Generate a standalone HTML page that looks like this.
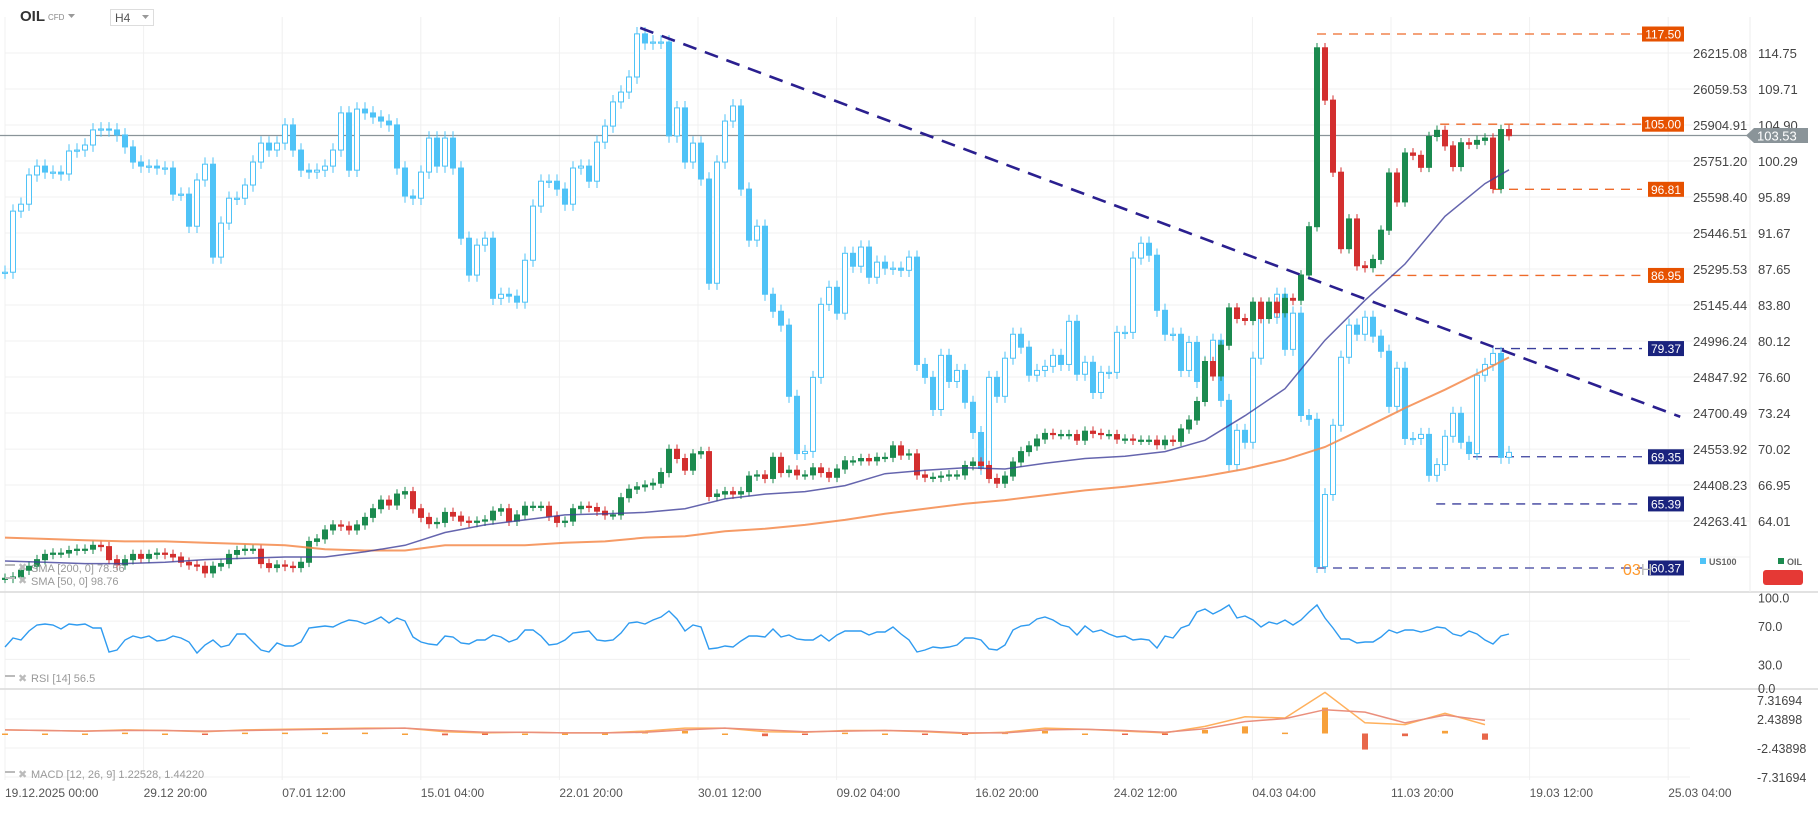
<!DOCTYPE html>
<html><head><meta charset="utf-8"><title>OIL H4</title>
<style>
html,body{margin:0;padding:0;background:#fff;}
#wrap{position:relative;width:1818px;height:813px;overflow:hidden;font-family:"Liberation Sans",sans-serif;}
svg text{font-family:"Liberation Sans",sans-serif;}
</style></head>
<body>
<div id="wrap">
<svg id="chart" width="1818" height="813" viewBox="0 0 1818 813" xmlns="http://www.w3.org/2000/svg">
  <g id="grid"></g>
  <g id="levels"></g>
  <g id="us100"></g>
  <g id="oil"></g>
  <g id="sma"></g>
  <g id="trend"></g>
  <g id="rsi"></g>
  <g id="macd"></g>
  <g id="axes"></g>
  <g id="tags"></g>
  <g>
    <text x="20" y="21" font-size="15" font-weight="bold" fill="#333">OIL</text>
    <text x="48" y="20" font-size="8" fill="#888">CFD</text>
    <path d="M68 14 L75 14 L71.5 18 Z" fill="#999"/>
    <rect x="110.5" y="9.5" width="43" height="16" fill="#fff" stroke="#ddd"/>
    <text x="115" y="22" font-size="12" fill="#555">H4</text>
    <path d="M142 15 L149 15 L145.5 19 Z" fill="#999"/>
  </g>
  <g>
    <rect x="5" y="564" width="10" height="2" fill="#bbb"/>
    <text x="18" y="571" font-size="11" fill="#bbb">✖</text>
    <text x="31" y="572" font-size="11" fill="#999">SMA [200, 0] 78.56</text>
    <rect x="5" y="577" width="10" height="2" fill="#bbb"/>
    <text x="18" y="584" font-size="11" fill="#bbb">✖</text>
    <text x="31" y="585" font-size="11" fill="#999">SMA [50, 0] 98.76</text>
    <rect x="5" y="675" width="10" height="2" fill="#bbb"/>
    <text x="18" y="682" font-size="11" fill="#bbb">✖</text>
    <text x="31" y="682" font-size="11" fill="#999">RSI [14] 56.5</text>
    <rect x="5" y="771" width="10" height="2" fill="#bbb"/>
    <text x="18" y="778" font-size="11" fill="#bbb">✖</text>
    <text x="31" y="778" font-size="11" fill="#999">MACD [12, 26, 9] 1.22528, 1.44220</text>
  </g>
  <g>
    <rect x="1700" y="558" width="6" height="6" fill="#4fc3f7"/>
    <text x="1709" y="565" font-size="9" font-weight="bold" fill="#666">US100</text>
    <rect x="1778" y="558" width="6" height="6" fill="#1b8a4f"/>
    <text x="1787" y="565" font-size="9" font-weight="bold" fill="#666">OIL</text>
    <rect x="1763" y="570" width="40" height="15" rx="3" fill="#e53935"/>
    <text x="1623" y="575" font-size="16" fill="#ff9a2e">03<tspan fill="#bbb">H</tspan></text>
  </g>
</svg>
</div>
<script>
// ---------- DATA ----------
const us100 = [25302,25557,25586,25708,25745,25720,25720,25712,25808,25812,
25833,25896,25900,25896,25875,25825,25762,25745,25745,25737,
25737,25628,25628,25494,25687,25753,25365,25507,25611,25611,
25666,25762,25841,25812,25841,25917,25812,25728,25720,25728,
25745,25812,25967,25728,25983,25967,25950,25933,25917,25737,
25620,25611,25720,25862,25745,25862,25737,25444,25290,25415,
25444,25193,25210,25202,25177,25352,25578,25682,25682,25649,
25586,25737,25745,25682,25845,25912,26013,26054,26117,26297,
26259,26263,26263,25871,25988,25762,25841,25691,25256,25762,
25933,25996,25649,25436,25494,25210,25139,25081,24784,24545,
24554,24863,25168,25239,25131,25381,25327,25407,25281,25344,
25319,25319,25310,25365,24917,24863,24729,24955,24846,24892,
24759,24633,24483,24863,24784,24943,25043,24989,24872,24892,
24909,24955,24917,25097,24876,24926,24800,24884,24884,25051,
25051,25361,25423,25373,25143,25043,25043,24892,25009,24846,
24926,25018,24767,24499,24642,24592,24943,25114,25114,25210,
24980,25131,24704,24688,24073,24374,24663,24947,25081,25043,
25114,25035,24972,24742,24901,24608,24608,24625,24454,24499,
24617,24713,24592,24545,24872,24917,24963,24529,24550];
const oil = [59.6,59.7,60.2,60.5,61.0,61.4,61.5,61.5,61.7,61.8,
61.8,62.1,62.0,61.0,60.6,61.0,61.4,61.1,61.4,61.5,
61.4,61.2,60.8,60.6,60.5,60.0,60.5,60.7,61.4,61.7,
61.8,61.8,60.7,60.4,60.6,60.5,60.4,60.8,62.4,62.6,
63.3,63.7,63.6,63.3,63.7,64.3,65.0,65.7,65.3,66.2,
66.4,65.0,64.3,63.8,63.9,64.7,64.4,64.0,63.9,64.0,
64.1,64.8,65.0,64.0,64.5,65.2,65.2,65.2,64.4,63.9,
64.0,65.0,65.2,65.1,64.8,64.5,64.5,65.9,66.6,66.8,
66.95,67.1,68.0,70.0,69.2,68.2,69.6,69.8,66.0,66.2,
66.4,66.2,66.4,67.7,67.8,67.5,69.3,68.0,68.2,67.8,
67.8,68.4,68.0,67.6,68.3,69.0,69.0,69.2,69.0,69.3,
69.3,70.3,69.5,69.6,67.8,67.6,67.6,67.7,67.8,67.8,
68.6,68.9,68.6,67.5,67.1,67.7,68.9,69.8,70.3,70.9,
71.4,71.3,71.3,71.3,70.8,71.6,71.4,71.3,71.3,70.9,
70.9,70.8,70.8,70.8,70.4,70.8,70.7,71.8,72.6,74.3,
78.1,76.7,79.7,83.5,82.4,82.2,84.1,82.4,84.1,83.0,
84.5,84.3,87.0,92.4,115.5,108.2,98.9,89.9,93.3,88.0,
87.8,88.7,92.0,98.8,95.3,101.3,101.0,99.5,103.4,104.2,
102.2,99.6,102.6,102.4,102.9,103.2,96.9,104.3,103.5];
const sma200 = [62.7,62.6,62.5,62.4,62.4,62.3,62.2,62.1,61.8,61.7,61.7,62.1,62.1,62.1,62.3,62.4,62.7,62.8,63.2,63.4,63.7,64.1,64.6,65.0,65.4,65.7,66.1,66.5,66.8,67.2,67.7,68.3,69.1,70.2,71.9,73.7,75.4,77.3,78.5];
const sma50 = [60.9,60.8,60.7,60.7,60.8,61.0,61.1,61.2,61.2,61.6,62.1,63.1,63.7,64.1,64.5,64.6,64.7,65.0,65.8,66.2,66.4,66.9,67.9,68.2,68.4,68.3,68.8,69.2,69.4,69.8,70.8,73.0,75.5,80.2,84.3,88.2,93.6,97.5,99.2];
const rsi = [42.9,52.4,50.3,59.7,66.0,67.0,66.0,61.8,67.0,66.0,
67.0,62.8,62.8,37.7,39.8,50.3,54.5,52.4,54.5,49.2,
50.3,54.5,52.4,48.2,36.6,45.0,50.3,42.9,45.0,56.5,
56.5,48.2,39.8,37.7,47.1,44.0,44.0,48.2,62.8,63.9,
64.9,63.9,68.1,71.2,70.2,67.0,70.2,74.3,68.1,73.3,
70.2,53.4,48.2,46.1,45.0,54.5,53.4,47.1,46.1,50.3,
50.3,55.5,53.4,48.2,51.3,60.7,60.7,54.5,45.0,46.1,
50.3,57.6,58.6,59.7,50.3,49.2,50.3,57.6,68.1,69.1,
67.0,71.2,74.3,80.6,72.3,59.7,66.0,63.9,40.8,41.9,
44.0,42.9,49.2,54.5,54.5,53.4,61.8,53.4,55.5,51.3,
50.3,50.3,55.5,49.2,55.5,59.7,59.7,59.7,55.5,58.6,
58.6,63.9,56.5,50.3,37.7,39.8,42.9,41.9,42.9,45.0,
52.4,52.4,50.3,40.8,39.8,45.0,60.7,64.9,66.0,72.3,
74.3,71.2,66.0,63.9,55.5,64.9,58.6,60.7,56.5,53.4,
54.5,50.3,51.3,50.3,41.9,54.5,52.4,62.8,66.0,79.6,
82.7,77.5,81.7,86.9,73.3,75.4,71.2,63.9,69.1,67.0,
71.2,66.0,71.2,79.6,86.9,73.3,62.8,51.3,51.3,47.1,
48.2,48.2,53.4,60.7,57.6,60.7,60.7,58.6,60.7,63.9,
62.8,56.5,54.5,59.7,56.5,50.3,46.1,54.5,56.5];
const macdLine = [0.6,0.5,0.4,0.6,0.5,0.3,0.6,0.7,0.8,0.9,0.9,0.3,0.1,0.2,0.1,0.1,0.4,0.9,0.9,0.3,0.2,0.5,0.5,0.3,0.0,0.2,0.9,0.7,0.4,0.1,1.2,2.8,2.6,6.9,1.8,1.5,3.4,1.5];
const signalLine = [0.6,0.5,0.4,0.5,0.5,0.4,0.5,0.6,0.7,0.8,0.9,0.5,0.2,0.2,0.1,0.1,0.2,0.6,0.9,0.6,0.3,0.4,0.5,0.4,0.1,0.1,0.6,0.7,0.5,0.2,0.8,2.0,2.5,4.0,3.6,1.8,3.1,2.2];
const oilTicks = [114.75,109.71,104.90,100.29,95.89,91.67,87.65,83.80,80.12,76.60,73.24,70.02,66.95,64.01];
const usTicks = [26215.08,26059.53,25904.91,25751.20,25598.40,25446.51,25295.53,25145.44,24996.24,24847.92,24700.49,24553.92,24408.23,24263.41];
const rsiTicks = [100.0,70.0,30.0,0.0];
const macdTicks = [7.31694,2.43898,-2.43898,-7.31694];
const timeLabels = ["19.12.2025  00:00","29.12  20:00","07.01  12:00","15.01  04:00","22.01  20:00","30.01  12:00","09.02  04:00","16.02  20:00","24.02  12:00","04.03  04:00","11.03  20:00","19.03  12:00","25.03  04:00"];
const resistLevels = [117.50,105.00,96.81,86.95];
const resistStart = [164,179.4,186,171.3];
const supportLevels = [79.37,69.35,65.39,60.37];
const supportStart = [186.25,183.5,178.9,164];
const trendIdx = [79.4,209.4];
const trendVal = [118.4,72.9];
const lastPrice = 103.53;

// ---------- SCALES ----------
const NS="http://www.w3.org/2000/svg";
function xOf(i){return 5+8*i;}
function yOil(v){return 53+Math.log(114.75/v)*801.8;}
function yUs(v){return 53.5+(26215.08-v)*467.5/1951.67;}
function yRsi(v){return 688-v*0.955;}
function yMacd(v){return 733.5-v*5.95;}
function mk(tag,attrs,parent){const e=document.createElementNS(NS,tag);for(const k in attrs)e.setAttribute(k,attrs[k]);parent.appendChild(e);return e;}
const G=id=>document.getElementById(id);

// ---------- GRID ----------
const grid=G('grid');
for(let k=0;k<timeLabels.length;k++){
  const x=5+138.6*k;
  const l=mk('line',{x1:x,x2:x,y1:17,y2:780,stroke:'#f0f0f0','stroke-width':1},grid);
  
  
}
oilTicks.forEach(v=>{
  const y=yOil(v);
  const l=mk('line',{x1:5,x2:1750,y1:y,y2:y,stroke:'#f0f0f0','stroke-width':1},grid);
  
  
});
mk('line',{x1:5,x2:1750,y1:557,y2:557,stroke:'#f0f0f0'},grid);
[592,689].forEach(y=>{
  const l=mk('line',{x1:0,x2:1818,y1:y,y2:y,stroke:'#d9d9d9','stroke-width':1.5},grid);
  
  
});
mk('line',{x1:1750,x2:1750,y1:17,y2:592,stroke:'#eeeeee'},grid);
[70,30].forEach(v=>{const y=yRsi(v);mk('line',{x1:5,x2:1690,y1:y,y2:y,stroke:'#f0f0f0'},grid);});
[2.43898,-2.43898,-7.31694].forEach(v=>{const y=yMacd(v);mk('line',{x1:5,x2:1690,y1:y,y2:y,stroke:'#f0f0f0'},grid);});

// ---------- CANDLES ----------
function candles(data,yf,wickPct,parent,upStyle,downStyle,name){
  for(let i=0;i<data.length;i++){
    const c=data[i], o=i>0?data[i-1]:data[i];
    const hi=Math.max(o,c)*(1+wickPct), lo=Math.min(o,c)*(1-wickPct);
    const x=xOf(i);
    const up=c>=o, st=up?upStyle:downStyle;
    const g=mk('g',{},parent);
    
    
    mk('line',{x1:x,x2:x,y1:yf(hi),y2:yf(lo),stroke:st.stroke,'stroke-width':1},g);
    const y1=yf(Math.max(o,c)), y2=yf(Math.min(o,c));
    mk('rect',{x:x-2.5,y:y1,width:5,height:Math.max(1.2,y2-y1),fill:st.fill,stroke:st.stroke,'stroke-width':1},g);
  }
}
candles(us100,yUs,0.0011,G('us100'),{stroke:'#4fc3f7',fill:'#ffffff'},{stroke:'#4fc3f7',fill:'#4fc3f7'},'us100-candle');
candles(oil,yOil,0.006,G('oil'),{stroke:'#1b8a4f',fill:'#1b8a4f'},{stroke:'#d32f2f',fill:'#d32f2f'},'oil-candle');

// ---------- SMA ----------
function smaPath(arr){
  return arr.map((v,k)=>{const i=k<arr.length-1?k*5:oil.length-1;return (k?'L':'M')+xOf(i).toFixed(1)+' '+yOil(v).toFixed(1);}).join(' ');
}
const s2=mk('path',{d:smaPath(sma200),fill:'none',stroke:'#f58a4b','stroke-width':2,'stroke-opacity':0.85},G('sma'));


const s5=mk('path',{d:smaPath(sma50),fill:'none',stroke:'#3f3f9a','stroke-width':1.5,'stroke-opacity':0.8},G('sma'));



// ---------- TRENDLINE ----------
const tl=mk('line',{x1:xOf(trendIdx[0]),y1:yOil(trendVal[0]),x2:xOf(trendIdx[1]),y2:yOil(trendVal[1]),stroke:'#2a1f8f','stroke-width':2.6,'stroke-dasharray':'14 9'},G('trend'));



// ---------- LEVELS ----------
const lv=G('levels'), tags=G('tags');
function level(v,start,color,boxColor,wide){
  const y=yOil(v);
  const l=mk('line',{x1:xOf(start),x2:1642,y1:y,y2:y,stroke:color,'stroke-width':1.3,'stroke-dasharray':'9 7'},lv);
  
  
  const bx=wide?1642:1648;
  const r=mk('rect',{x:bx,y:y-7.5,width:1684-bx,height:15,fill:boxColor},tags);
  
  
  const t=mk('text',{x:1681,y:y+4.5,'font-size':12,fill:'#fff','text-anchor':'end'},tags);
  t.textContent=v.toFixed(2);
  
  
}
resistLevels.forEach((v,k)=>level(v,resistStart[k],'#ee6a2a','#e65100',v>=100));
supportLevels.forEach((v,k)=>level(v,supportStart[k],'#3a3f9c','#1a237e',false));

const yp=yOil(lastPrice);
const cpl=mk('line',{x1:0,x2:1748,y1:yp,y2:yp,stroke:'#8a9499','stroke-width':1.2},G('levels'));


const cpt=mk('path',{d:`M1746 ${yp} L1754 ${yp-7.5} L1808 ${yp-7.5} L1808 ${yp+7.5} L1754 ${yp+7.5} Z`,fill:'#8a9499'},tags);


const cptx=mk('text',{x:1757,y:yp+5,'font-size':13,fill:'#fff'},tags);
cptx.textContent=lastPrice.toFixed(2);



// ---------- RSI ----------
const rp=rsi.map((v,i)=>(i?'L':'M')+xOf(i)+' '+yRsi(v).toFixed(1)).join(' ');
const rl=mk('path',{d:rp,fill:'none',stroke:'#2f9bf0','stroke-width':1.4},G('rsi'));



// ---------- MACD ----------
const mg=G('macd');
macdLine.forEach((v,k)=>{
  const h=(v-signalLine[k])*1.5;
  const x=xOf(k*5);
  const y0=yMacd(0), y1=yMacd(h);
  const b=mk('rect',{x:x-3,y:Math.min(y0,y1),width:6,height:Math.max(1.5,Math.abs(y1-y0)),fill:h>=0?'#f7a13b':'#e8674a'},mg);
  
  
});
function mpath(arr){return arr.map((v,k)=>(k?'L':'M')+xOf(k*5)+' '+yMacd(v).toFixed(1)).join(' ');}
const ml=mk('path',{d:mpath(macdLine),fill:'none',stroke:'#ffb05c','stroke-width':1.5},mg);


const sl=mk('path',{d:mpath(signalLine),fill:'none',stroke:'#ea8f7c','stroke-width':1.5},mg);



// ---------- AXES LABELS ----------
const ax=G('axes');
oilTicks.forEach(v=>{
  const t=mk('text',{x:1758,y:yOil(v)+5,'font-size':13,fill:'#444'},ax);
  t.textContent=v.toFixed(2);
  
  
});
usTicks.forEach((v,k)=>{
  const t=mk('text',{x:1693,y:yOil(oilTicks[k])+5,'font-size':13,fill:'#444'},ax);
  t.textContent=v.toFixed(2);
  
  
});
rsiTicks.forEach(v=>{
  const t=mk('text',{x:1758,y:Math.min(yRsi(v)+10,693),'font-size':12.5,fill:'#444'},ax);
  t.textContent=v.toFixed(1);
  
  
});
macdTicks.forEach(v=>{
  const y=yMacd(v);
  const t=mk('text',{x:1757,y:Math.max(705,Math.min(y+5,782)),'font-size':12.5,fill:'#444'},ax);
  t.textContent=String(v);
  
  
});
timeLabels.forEach((s,k)=>{
  const t=mk('text',{x:5+138.6*k,y:797,'font-size':12,fill:'#555','xml:space':'preserve'},ax);
  t.textContent=s;
  
  
});
</script>
</body></html>
